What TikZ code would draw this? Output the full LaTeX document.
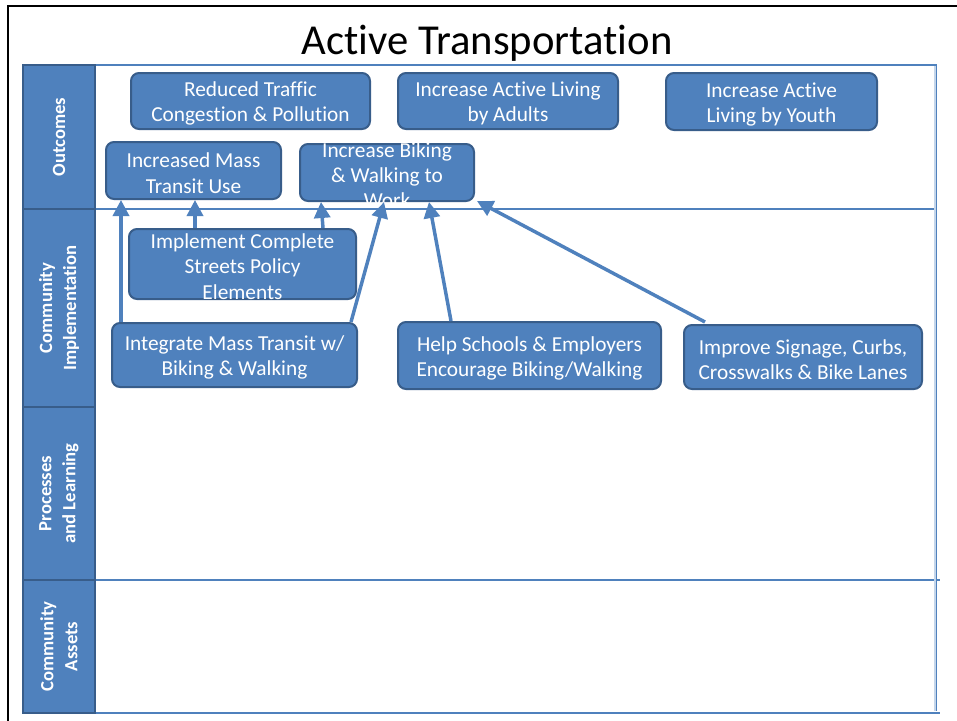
\documentclass[tikz,border=0pt]{standalone}
\usepackage{fontspec}
\setmainfont{Carlito}[Ligatures=NoCommon]
\usetikzlibrary{arrows.meta,fit,calc}
\definecolor{accent}{HTML}{4F81BD}
\definecolor{accentdark}{HTML}{385D8A}
\definecolor{accentpale}{HTML}{C5D6EA}
\begin{document}
\begin{tikzpicture}[x=0.75pt,y=-0.75pt,
  box/.style={draw=accentdark, line width=1.5pt, fill=accent, rounded corners=6pt, inner sep=0pt},
  boxtext/.style={text=white, align=center, font=\fontsize{16}{19}\selectfont, inner sep=0pt, yshift=-2pt},
  band/.style={draw=accentdark, line width=1.2pt, fill=accent, inner sep=0pt},
  bandtext/.style={text=white, align=center, rotate=90, font=\bfseries\fontsize{14}{18}\selectfont, inner sep=0pt},
  rule/.style={draw=accent, line width=0.8pt},
  arr/.style={draw=accent, line width=2.6pt, -{Triangle[width=12pt,length=12pt]}},
]
\useasboundingbox (0,0) rectangle (957,721);
\fill[white] (0,0) rectangle (957,721);

% slide edge
\draw[line width=1.6pt] (8,721) -- (8,6) -- (957,6);

% title
\node[anchor=base, font=\fontsize{32}{38}\selectfont, inner sep=0pt] (title) at (487,54) {Active Transportation};

% frame of the chart area
\draw[rule] (95,65) -- (937,65);
\draw[rule] (95,209) -- (937,209);
\draw[draw=accent, line width=1.8pt] (95,580) -- (940,580);
\draw[rule] (95,713) -- (940,713);
\draw[draw=accentpale, line width=1.5pt] (934.5,66) -- (934.5,711);
\draw[rule] (936.5,65) -- (936.5,711);

% row headers
\node[band, fit={(23,65) (95,209)}] (r1) {};
\node[band, fit={(23,209) (95,407)}] (r2) {};
\node[band, fit={(23,407) (95,580)}] (r3) {};
\node[band, fit={(23,580) (95,713)}] (r4) {};
\node[bandtext] (r1t) at (r1.center) {Outcomes};
\node[bandtext] (r2t) at (r2.center) {Community\\Implementation};
\node[bandtext] (r3t) at (r3.center) {Processes\\and Learning};
\node[bandtext] (r4t) at (r4.center) {Community\\Assets};

% boxes
\node[box, fit={(131,73) (370,129)}] (b1) {};
\node[box, fit={(398,73) (618,129)}] (b2) {};
\node[box, fit={(666,73) (877,130)}] (b3) {};
\node[box, fit={(106,142) (281,199)}] (b4) {};
\node[box, fit={(300,144) (474,201)}] (b5) {};
\node[box, fit={(129,229) (356,299)}] (b6) {};
\node[box, fit={(112,323) (357,387)}] (b7) {};
\node[box, fit={(398,322) (661,389)}] (b8) {};
\node[box, fit={(684,325) (922,389)}] (b9) {};

\node[boxtext] (t1) at (b1.center) {Reduced Traffic\\Congestion \& Pollution};
\node[boxtext] (t2) at (b2.center) {Increase Active Living\\by Adults};
\node[boxtext] (t3) at (b3.center) {Increase Active\\Living by Youth};
\node[boxtext] (t4) at (b4.center) {Increased Mass\\Transit Use};
\node[boxtext] (t5) at (b5.center) {Increase Biking\\\& Walking to\\Work};
\node[boxtext] (t6) at (b6.center) {Implement Complete\\Streets Policy\\Elements};
\node[boxtext] (t7) at (b7.center) {Integrate Mass Transit w/\\Biking \& Walking};
\node[boxtext] (t8) at (b8.center) {Help Schools \& Employers\\Encourage Biking/Walking};
\node[boxtext] (t9) at (b9.center) {Improve Signage, Curbs,\\Crosswalks \& Bike Lanes};

% links
\draw[arr] ($(b7.north west)+(10,0)$) -- ($(b4.south west)+(16,0)$);
\draw[arr] ($(b6.north west)+(67,0)$) -- ($(b4.south west)+(90,0)$);
\draw[arr] ($(b6.north east)+(-34,0)$) -- ($(b5.south west)+(22,0)$);
\draw[arr] ($(b7.north east)+(-7,0)$) -- ($(b5.south west)+(85,0)$);
\draw[arr] ($(b8.north west)+(54,0)$) -- ($(b5.south west)+(130,0)$);
\draw[arr] ($(b9.north west)+(22,-2)$) -- ($(b5.south east)+(2,-1)$);
\end{tikzpicture}
\end{document}
